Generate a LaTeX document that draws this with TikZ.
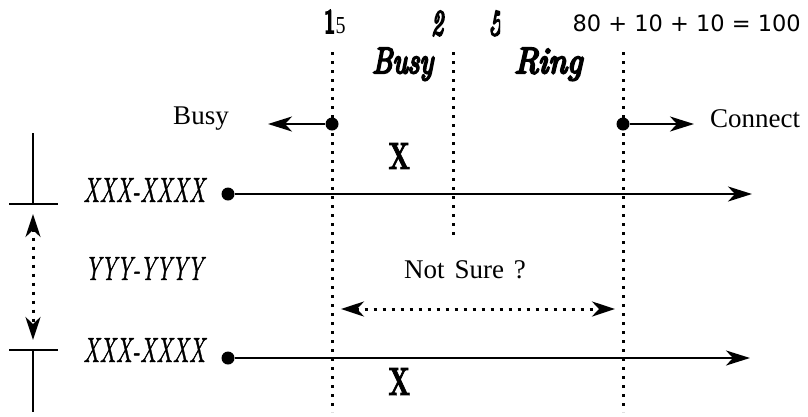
\documentclass[tikz,border=0pt]{standalone}
\usepackage{fontspec}
\newfontfamily\tms{Liberation Serif}
\newfontfamily\dejavu{DejaVu Sans}
\newfontfamily\phonefont{lmroman10-italic.otf}[FakeBold=1.4]
\newfontfamily\headfont{lmroman10-italic.otf}[FakeBold=6]
\IfFontExistsTF{lmroman10-bold.otf}{%
  \newfontfamily\xfont{lmroman10-bold.otf}[FakeBold=2.5]%
  \newfontfamily\onefont{lmroman10-bold.otf}[FakeBold=5]%
}{%
  \newfontfamily\xfont{lmroman10-regular.otf}[FakeBold=4]%
  \newfontfamily\onefont{lmroman10-regular.otf}[FakeBold=6]%
}
\usetikzlibrary{arrows.meta}
\begin{document}
\begin{tikzpicture}[x=1pt,y=-1pt,
  dotline/.style={line width=3pt, dash pattern=on 3pt off 6pt},
  solidline/.style={line width=2.4pt},
  thinline/.style={line width=1.3pt},
  tipr/.style={-{Stealth[length=24pt,width=15pt,inset=7pt]}},
  tipboth/.style={{Stealth[length=23pt,width=15pt,inset=7pt]}-{Stealth[length=23pt,width=15pt,inset=7pt]}},
  dotpt/.style={circle, fill=black, inner sep=0pt, minimum size=13pt},
  lbl/.style={inner sep=0pt, font=\tms\fontsize{27}{30}\selectfont},
  fitted/.style={inner sep=0pt, anchor=base west}]
\useasboundingbox (0,0) rectangle (808,416);

% top labels
\node[fitted] (one) at (324,33) {\resizebox{11pt}{23pt}{\onefont 1}};
\node[fitted] (five) at (335.5,33) {\resizebox{10pt}{16pt}{\tms 5}};
\node[fitted] (two) at (431,35) {\resizebox{12pt}{24pt}{\headfont 2}};
\begin{scope}
  \clip (486,0) rectangle (500,45);
  \node[fitted] (fivec) at (488,35) {\resizebox{14pt}{24pt}{\headfont 5}};
\end{scope}
\node[inner sep=0pt, anchor=east, font=\fontsize{22.5}{26}\selectfont\dejavu] (sum) at (801,23) {80 + 10 + 10 = 100};

\node[fitted] (busyh) at (372,73) {\resizebox{61pt}{25pt}{\headfont Busy}};
\node[fitted] (ringh) at (514,73) {\resizebox{68pt}{25pt}{\headfont Ring}};

% vertical dotted lines
\coordinate (l1t) at (332,52);
\coordinate (l1b) at (332,412);
\coordinate (l2t) at (453,52);
\coordinate (l2b) at (453,238);
\coordinate (l3t) at (623,52);
\coordinate (l3b) at (623,412);
\draw[dotline] (l1t) -- (l1b);
\draw[dotline] (l2t) -- (l2b);
\draw[dotline] (l3t) -- (l3b);

% busy / connect
\node[dotpt] (dbusy) at (332,124) {};
\coordinate (abusy) at (268,124);
\draw[solidline, tipr] (dbusy) -- (abusy);
\node[lbl] (busy) at (201,119) {Busy};

\node[dotpt] (dconn) at (623,124) {};
\coordinate (aconn) at (694,124);
\draw[solidline, tipr] (dconn) -- (aconn);
\node[lbl] (conn) at (755,119) {Connect};

\node[fitted] (x1) at (388,169) {\resizebox{22pt}{26pt}{\xfont X}};
\node[fitted] (x2) at (388,395) {\resizebox{22pt}{27pt}{\xfont X}};

% phone lines
\node[fitted] (p1) at (83,202) {\resizebox{122pt}{24pt}{\phonefont XXX-XXXX}};
\node[dotpt] (d1) at (228,194) {};
\coordinate (e1) at (752,194);
\draw[solidline, tipr] (d1) -- (e1);

\node[fitted] (p2) at (85,280) {\resizebox{118pt}{23pt}{\phonefont YYY-YYYY}};

\node[fitted] (p3) at (83,362) {\resizebox{122pt}{24pt}{\phonefont XXX-XXXX}};
\node[dotpt] (d3) at (228,358) {};
\coordinate (e3) at (750,358);
\draw[solidline, tipr] (d3) -- (e3);

% not sure
\node[lbl] (ns) at (465,270) {Not\hspace{10pt}Sure\hspace{10pt}?};
\coordinate (nsl) at (341,309);
\coordinate (nsr) at (615,309);
\draw[dotline, tipboth] (nsl) -- (nsr);

% left scale
\coordinate (s1) at (33,133);
\coordinate (s2) at (33,204);
\coordinate (h1l) at (9,204);
\coordinate (h1r) at (58,204);
\coordinate (s3) at (33,350);
\coordinate (s4) at (33,412);
\coordinate (h2l) at (9,350);
\coordinate (h2r) at (58,350);
\draw[thinline] (s1) -- (s2);
\draw[thinline] (h1l) -- (h1r);
\draw[thinline] (h2l) -- (h2r);
\draw[thinline] (s3) -- (s4);
\coordinate (va) at (33,214);
\coordinate (vb) at (33,340);
\draw[dotline, tipboth] (va) -- (vb);
\end{tikzpicture}
\end{document}
